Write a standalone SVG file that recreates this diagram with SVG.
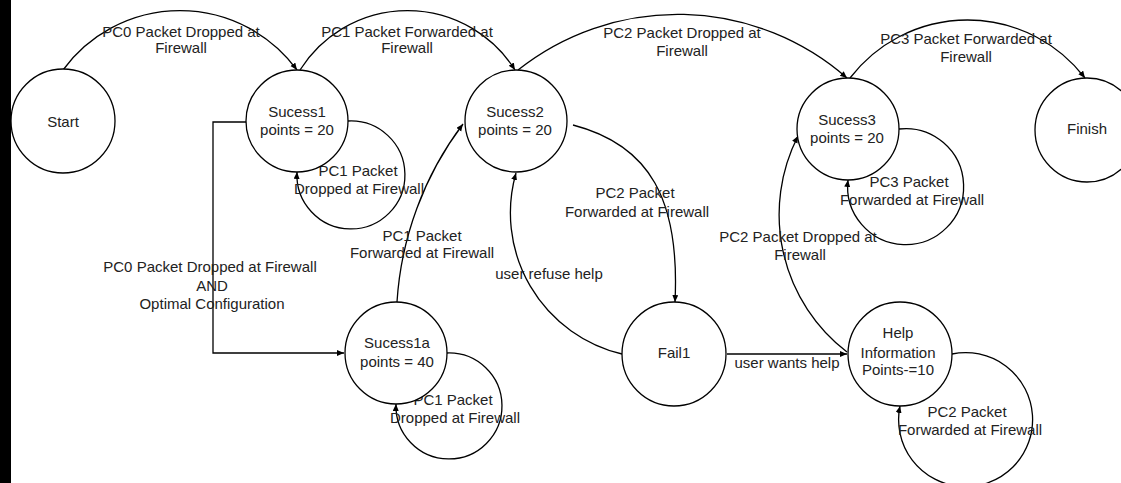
<svg xmlns="http://www.w3.org/2000/svg" width="1121" height="483" viewBox="0 0 1121 483">
<style>
.n{fill:#fff;stroke:#000;stroke-width:1.3}
.c{fill:none;stroke:#000;stroke-width:1.3}
text{font-family:"Liberation Sans",Arial,sans-serif;font-size:15px;fill:#222;text-anchor:middle}
</style>
<defs>
<marker id="a" markerUnits="userSpaceOnUse" markerWidth="8" markerHeight="8" refX="7" refY="3" orient="auto">
<path d="M0,0 L7,3 L0,6 z" fill="#000"/>
</marker>
</defs>
<rect x="0" y="0" width="11" height="483" fill="#000"/>
<g id="connectors">
<path class="c" d="M63 70 A145 145 0 0 1 297 70" marker-end="url(#a)"/>
<path class="c" d="M300 70 A127 127 0 0 1 515 70" marker-end="url(#a)"/>
<path class="c" d="M518 70 A257 257 0 0 1 847 78" marker-end="url(#a)"/>
<path class="c" d="M850 78 A148 148 0 0 1 1085 78" marker-end="url(#a)"/>
<path class="c" d="M397 302 A330 330 0 0 1 463 124" marker-end="url(#a)"/>
<path class="c" d="M573 125 C650 145 680 200 675 302" marker-end="url(#a)"/>
<path class="c" d="M622 354 A145 145 0 0 1 516 173" marker-end="url(#a)"/>
<path class="c" d="M727 354 L847 354" stroke-width="2.4" marker-end="url(#a)"/>
<path class="c" d="M847 352 A173 173 0 0 1 798 136" marker-end="url(#a)"/>
<path class="c" d="M247 122 H213 V353 H344" stroke-width="1.8" marker-end="url(#a)"/>
<path class="c" d="M348 121 A54 54 0 1 1 297 172" marker-end="url(#a)"/>
<path class="c" d="M447 353 A53 53 0 1 1 396 404" marker-end="url(#a)"/>
<path class="c" d="M899 129 A58 58 0 1 1 848 180" marker-end="url(#a)"/>
<path class="c" d="M952 354 A67 67 0 1 1 900 406" marker-end="url(#a)"/>
<text x="181" y="37">PC0 Packet Dropped at</text>
<text x="181" y="53">Firewall</text>
<text x="407" y="37">PC1 Packet Forwarded at</text>
<text x="407" y="53">Firewall</text>
<text x="682" y="38">PC2 Packet Dropped at</text>
<text x="682" y="56">Firewall</text>
<text x="966" y="44">PC3 Packet Forwarded at</text>
<text x="966" y="62">Firewall</text>
<text x="358" y="176">PC1 Packet</text>
<text x="359" y="194">Dropped at Firewall</text>
<text x="453" y="405">PC1 Packet</text>
<text x="455" y="423">Dropped at Firewall</text>
<text x="909" y="187">PC3 Packet</text>
<text x="912" y="205">Forwarded at Firewall</text>
<text x="967" y="417">PC2 Packet</text>
<text x="970" y="435">Forwarded at Firewall</text>
<text x="422" y="241">PC1 Packet</text>
<text x="422" y="258">Forwarded at Firewall</text>
<text x="635" y="198">PC2 Packet</text>
<text x="637" y="217">Forwarded at Firewall</text>
<text x="549" y="279">user refuse help</text>
<text x="787" y="368">user wants help</text>
<text x="798" y="242">PC2 Packet Dropped at</text>
<text x="800" y="260">Firewall</text>
<text x="210" y="272">PC0 Packet Dropped at Firewall</text>
<text x="212" y="291">AND</text>
<text x="212" y="309">Optimal Configuration</text>
</g>
<g id="start"><circle class="n" cx="63" cy="121" r="52"/><text x="63" y="127">Start</text></g>
<g id="sucess1"><circle class="n" cx="297" cy="121" r="51"/><text x="297" y="117">Sucess1</text><text x="297" y="135">points = 20</text></g>
<g id="sucess2"><circle class="n" cx="516" cy="121" r="51"/><text x="515" y="117">Sucess2</text><text x="515" y="135">points = 20</text></g>
<g id="sucess3"><circle class="n" cx="848" cy="129" r="51"/><text x="847" y="125">Sucess3</text><text x="847" y="143">points = 20</text></g>
<g id="finish"><circle class="n" cx="1087" cy="130" r="52"/><text x="1087" y="134">Finish</text></g>
<g id="sucess1a"><circle class="n" cx="396" cy="353" r="51"/><text x="397" y="348">Sucess1a</text><text x="397" y="367">points = 40</text></g>
<g id="fail1"><circle class="n" cx="674" cy="354" r="52"/><text x="674" y="358">Fail1</text></g>
<g id="help"><circle class="n" cx="900" cy="354" r="52"/><text x="898" y="338">Help</text><text x="898" y="358">Information</text><text x="898" y="375">Points-=10</text></g>
</svg>
